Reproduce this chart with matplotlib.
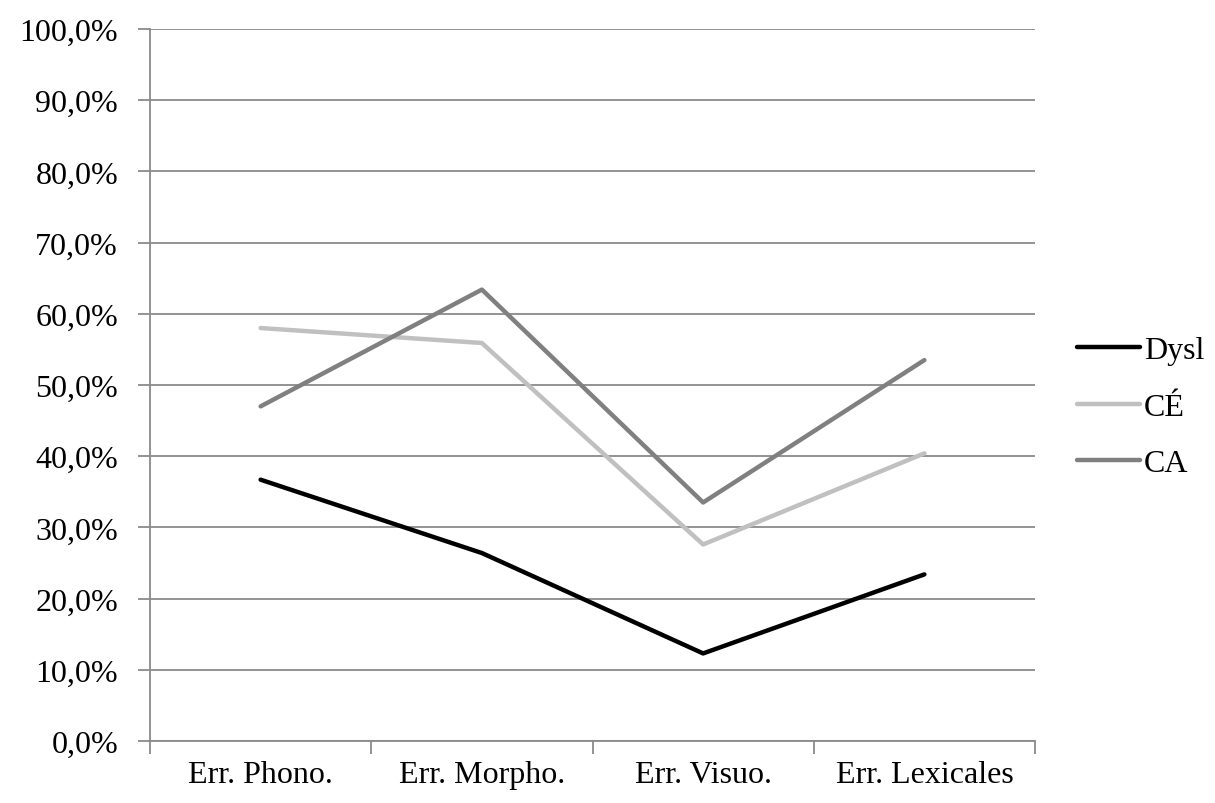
import matplotlib.pyplot as plt
from matplotlib.ticker import FuncFormatter, FixedLocator

categories = ['Err. Phono.', 'Err. Morpho.', 'Err. Visuo.', 'Err. Lexicales']
dysl = [36.7, 26.4, 12.3, 23.4]
ce = [58.0, 55.9, 27.6, 40.4]
ca = [47.0, 63.4, 33.5, 53.5]

series_names = ['Dysl', 'CÉ', 'CA']
series_colors = ['#000000', '#c0c0c0', '#808080']


def pct(v, pos):
    return f"{v:.1f}%".replace('.', ',')


def main():
    plt.rcParams['font.family'] = ['Liberation Serif', 'DejaVu Serif']
    fig = plt.figure(figsize=(12.15, 8.04), dpi=100)
    ax = fig.add_axes([150 / 1215, 1 - 742 / 804, 885 / 1215, 712 / 804])

    x = list(range(len(categories)))
    for vals, name, col in zip([dysl, ce, ca], series_names, series_colors):
        ax.plot(x, vals, color=col, linewidth=3.2, label=name, solid_capstyle='round', zorder=3)

    ax.set_xlim(-0.5, len(categories) - 0.5)
    ax.set_ylim(0, 100)
    ax.set_yticks(range(0, 101, 10))
    ax.yaxis.set_major_formatter(FuncFormatter(pct))
    ax.set_xticks(x)
    ax.set_xticklabels(categories)
    ax.xaxis.set_minor_locator(FixedLocator([i - 0.5 for i in range(len(categories) + 1)]))

    grid_col = '#8a8a8a'
    ax.grid(axis='y', color=grid_col, linewidth=1.3, zorder=1)
    for s in ['top', 'right']:
        ax.spines[s].set_visible(False)
    for s in ['left', 'bottom']:
        ax.spines[s].set_color(grid_col)
        ax.spines[s].set_linewidth(1.3)

    fs = 23
    ax.tick_params(axis='y', length=9, width=1.3, color=grid_col, pad=14, labelsize=fs)
    ax.tick_params(axis='x', which='major', length=0, pad=14, labelsize=fs)
    ax.tick_params(axis='x', which='minor', length=9, width=1.3, color=grid_col)

    ax.legend(loc='center left', bbox_to_anchor=(1.047, 0.469), frameon=False, fontsize=fs,
              handlelength=2.0, handletextpad=0.1, labelspacing=0.85,
              borderpad=0, borderaxespad=0)

    fig.savefig('out.png', dpi=100)


if __name__ == "__main__":
    main()
